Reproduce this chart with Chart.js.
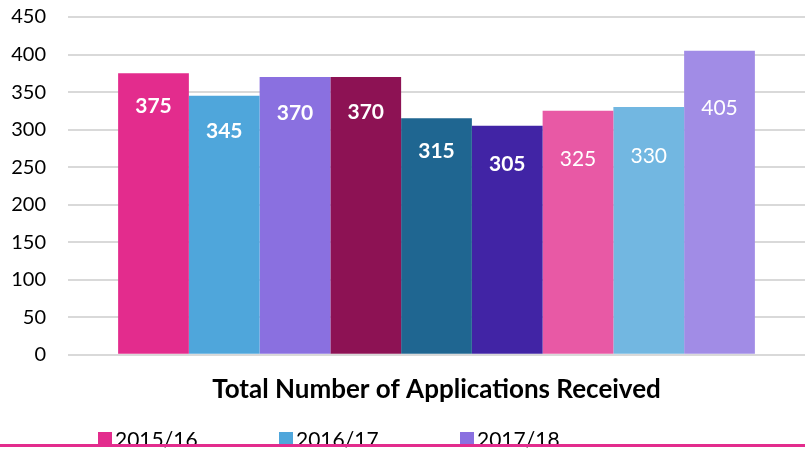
<!DOCTYPE html>
<html>
<head>
<meta charset="utf-8">
<script src="https://cdn.jsdelivr.net/npm/chart.js@4"></script>
<style>
html,body{margin:0;padding:0;background:#fff;}
#wrap{width:805px;height:450px;position:relative;}
</style>
</head>
<body>
<div id="wrap"><canvas id="c"></canvas></div>
<script>
// ---- data ----
const categories = [''];
const seriesLabels = ['2015/16','2016/17','2017/18','2015/16','2016/17','2017/18','2015/16','2016/17','2017/18'];
const seriesValues = [375, 345, 370, 370, 315, 305, 325, 330, 405];
const yTicks = [0, 50, 100, 150, 200, 250, 300, 350, 400, 450];
const legendLabels = ['2015/16','2016/17','2017/18'];
const axisTitle = 'Total Number of Applications Received';

// ---- styles ----
const barColors = ['#E32C8D','#4FA6DB','#8A70E0','#8D1254','#1F6691','#4124A5','#E859A5','#72B7E1','#A18CE6'];
const labelBold = [true,true,true,true,true,true,false,false,false];
const labelOffset = [33,35,36,35,33,38,48,49,57];
const FONT = 'Lato, "Open Sans", sans-serif';

const datasets = seriesValues.map((v, i) => ({
  label: seriesLabels[i],
  data: [v],
  backgroundColor: barColors[i],
  borderWidth: 0,
  categoryPercentage: 0.864,
  barPercentage: 1.0
}));

const valueLabels = {
  id: 'valueLabels',
  afterDatasetsDraw(chart) {
    const ctx = chart.ctx;
    ctx.save();
    ctx.fillStyle = '#ffffff';
    ctx.textAlign = 'center';
    ctx.textBaseline = 'middle';
    chart.data.datasets.forEach((ds, i) => {
      const meta = chart.getDatasetMeta(i);
      meta.data.forEach((bar, j) => {
        ctx.font = (labelBold[i] ? 'bold ' : '') + '21px ' + FONT;
        ctx.fillText(String(ds.data[j]), bar.x, bar.y + labelOffset[i]);
      });
    });
    ctx.restore();
  }
};

const bottomLegend = {
  id: 'bottomLegend',
  afterDraw(chart) {
    const ctx = chart.ctx;
    const area = chart.chartArea;
    ctx.save();
    ctx.font = '21px ' + FONT;
    ctx.textBaseline = 'alphabetic';
    ctx.textAlign = 'left';
    const y = chart.height - 3;
    legendLabels.forEach((lab, i) => {
      const x = area.left + 30 + i * 181;
      ctx.fillStyle = chart.data.datasets[i].backgroundColor;
      ctx.fillRect(x, y - 15, 14, 14);
      ctx.fillStyle = '#000';
      ctx.fillText(lab, x + 17, y);
    });
    // pink rule at bottom
    ctx.strokeStyle = '#E32C8D';
    ctx.lineWidth = 3;
    ctx.beginPath();
    ctx.moveTo(0, chart.height - 4.5);
    ctx.lineTo(chart.width, chart.height - 4.5);
    ctx.stroke();
    ctx.restore();
  }
};

new Chart(document.getElementById('c'), {
  type: 'bar',
  data: { labels: categories, datasets },
  options: {
    responsive: true,
    maintainAspectRatio: false,
    animation: false,
    layout: { padding: { top: 17, right: 0, bottom: 41, left: 0 } },
    plugins: {
      legend: { display: false },
      tooltip: { enabled: false },
      title: { display: false }
    },
    scales: {
      x: {
        grid: { display: false, drawTicks: false },
        border: { display: false },
        ticks: { display: false },
        title: {
          display: true,
          text: axisTitle,
          color: '#000',
          font: { family: FONT, size: 26, weight: 'bold' },
          padding: { top: 19, bottom: 4 }
        }
      },
      y: {
        min: 0,
        max: 450,
        afterBuildTicks(scale) { scale.ticks = yTicks.map(v => ({ value: v })); },
        afterFit(scale) {
          scale.width = 68;
          scale.paddingTop = Math.max(0, scale.paddingTop - 22);
        },
        grid: { color: '#d9d9d9', lineWidth: 2, drawTicks: false },
        border: { display: false },
        ticks: {
          color: '#000',
          padding: 22,
          font: { family: FONT, size: 20 }
        }
      }
    }
  },
  plugins: [valueLabels, bottomLegend]
});
</script>
</body>
</html>
